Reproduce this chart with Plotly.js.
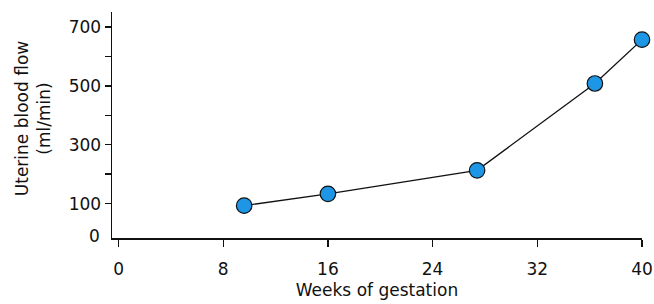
<!DOCTYPE html>
<html>
<head>
<meta charset="utf-8">
<script src="https://cdn.plot.ly/plotly-3.0.1.min.js"></script>
<style>html,body{margin:0;padding:0;background:#fff;}#chart{width:654px;height:304px;}</style>
</head>
<body>
<div id="chart"></div>
<script>
const weeks = [9.6, 16, 27.4, 36.4, 40];
const flow = [93, 133, 213, 508, 657];
const xTicks = [0, 8, 16, 24, 32, 40];
const yTickVals = [100, 200, 300, 400, 500, 600, 700];
const yTickText = ['100', '', '300', '', '500', '', '700'];
const zeroLabel = '0';
const xTitle = 'Weeks of gestation';
const yTitle = 'Uterine blood flow<br>(ml/min)';

function f() { return {family: 'DejaVu Sans, Arial, sans-serif', size: 17, color: '#111'}; }

const trace = {
  x: weeks, y: flow, type: 'scatter', mode: 'lines+markers',
  line: {color: '#111', width: 1.3},
  marker: {size: 15.5, color: '#1E96E6', line: {color: '#111', width: 1.2}},
  cliponaxis: false, hoverinfo: 'skip'
};

const layout = {
  width: 654, height: 304,
  margin: {l: 112, r: 12.3, t: 12.3, b: 65.5},
  paper_bgcolor: '#fff', plot_bgcolor: '#fff',
  font: f(),
  showlegend: false,
  xaxis: {
    range: [-0.5, 40], tickvals: xTicks, ticktext: xTicks.map(String),
    ticks: 'outside', ticklen: 7, tickwidth: 1.3, tickcolor: '#111',
    ticklabelstandoff: 8,
    showline: true, linecolor: '#111', linewidth: 1.5,
    showgrid: false, zeroline: false, tickfont: f(),
    title: {text: xTitle, font: f(), standoff: 6}
  },
  yaxis: {
    range: [-17, 751], tickvals: yTickVals, ticktext: yTickText,
    ticks: 'outside', ticklen: 6, tickwidth: 1.3, tickcolor: '#111',
    showline: true, linecolor: '#111', linewidth: 1.5,
    showgrid: false, zeroline: false, tickfont: f()
  },
  annotations: [{
    text: zeroLabel, xref: 'paper', yref: 'y', x: 0, y: 0,
    xanchor: 'right', yanchor: 'middle', xshift: -10, yshift: -3,
    showarrow: false, font: f()
  }, {
    text: yTitle, xref: 'paper', yref: 'paper', x: 0, y: 0.53,
    xanchor: 'center', yanchor: 'middle', xshift: -79, textangle: -90,
    showarrow: false, font: f()
  }]
};

Plotly.newPlot('chart', [trace], layout, {displayModeBar: false, staticPlot: true});
</script>
</body>
</html>
